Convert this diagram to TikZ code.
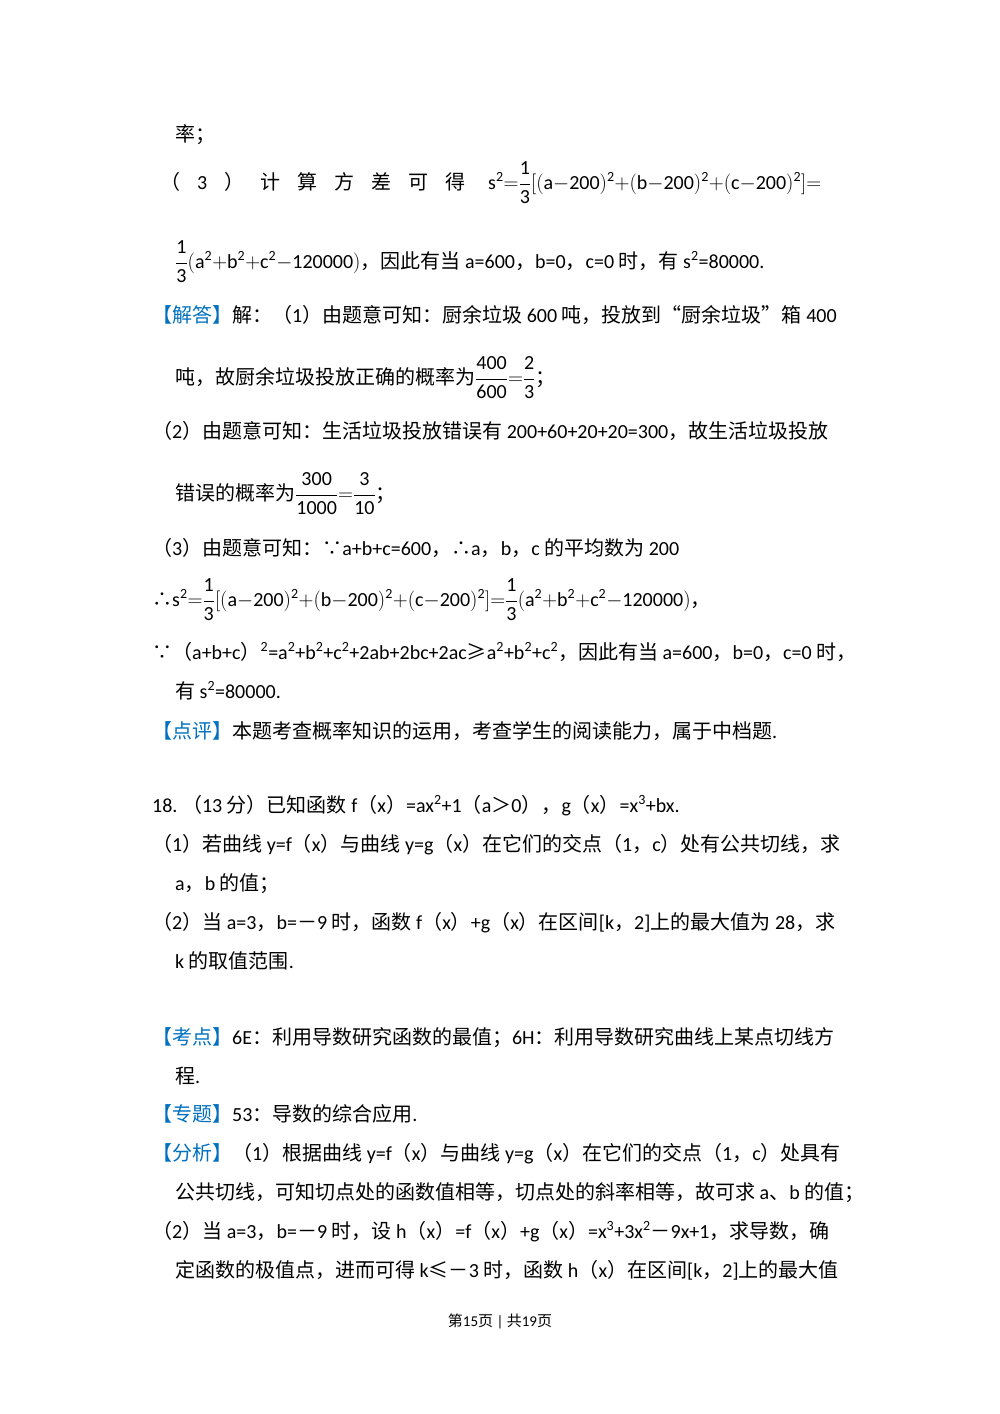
\documentclass[tikz,border=0pt]{standalone}
\usepackage{fontspec}
\setmainfont{Carlito}
\newfontfamily\cjkf{Noto Sans CJK SC}
\newfontfamily\latf{Carlito}
\XeTeXinterchartokenstate=1
\newXeTeXintercharclass\cjkcls
\count255="3000 \loop \XeTeXcharclass\count255=\cjkcls \ifnum\count255<"303F \advance\count255 1 \repeat
\count255="4E00 \loop \XeTeXcharclass\count255=\cjkcls \ifnum\count255<"9FFF \advance\count255 1 \repeat
\count255="FF00 \loop \XeTeXcharclass\count255=\cjkcls \ifnum\count255<"FFEF \advance\count255 1 \repeat
\XeTeXcharclass"201C=\cjkcls \XeTeXcharclass"201D=\cjkcls
\XeTeXcharclass"2234=\cjkcls \XeTeXcharclass"2235=\cjkcls
\XeTeXcharclass"2264=\cjkcls \XeTeXcharclass"2265=\cjkcls
\XeTeXinterchartoks 0 \cjkcls = {\cjkf}
\XeTeXinterchartoks 4095 \cjkcls = {\cjkf}
\XeTeXinterchartoks \cjkcls 0 = {\latf}
\XeTeXinterchartoks \cjkcls 4095 = {\latf}
\definecolor{hb}{RGB}{0,112,192}
\newcommand\hd[1]{{\color{hb}【#1】}}
\newcommand\sq{\textsuperscript{2}}
\newcommand\cu{\textsuperscript{3}}
\newcommand\fr[2]{{\displaystyle\frac{#1}{#2}}}
\begin{document}
\begin{tikzpicture}[x=1pt,y=-1pt,
  ln/.style={anchor=base west,inner sep=0pt,font=\fontsize{20}{24}\selectfont}]
\useasboundingbox (0,0) rectangle (1000,1414);
\node[ln] (l1) at (175,141) {率；};
\node[ln] (l2) at (160,189) {\makebox[305pt][s]{（ 3 ） 计 算 方 差 可 得}};
\node[ln] (l2b) at (488,189) {$\mathrm{s^2{=}\fr{1}{3}[(a{-}200)^2{+}(b{-}200)^2{+}(c{-}200)^2]{=}}$};
\node[ln] (l3) at (175,268) {$\mathrm{\fr{1}{3}(a^2{+}b^2{+}c^2{-}120000)}$，因此有当 a=600，b=0，c=0 时，有 s\sq=80000.};
\node[ln] (l4) at (152,322) {\hd{解答}解：（1）由题意可知：厨余垃圾 600 吨，投放到“厨余垃圾”箱 400};
\node[ln] (l5) at (175,384) {吨，故厨余垃圾投放正确的概率为$\mathrm{\fr{400}{600}{=}\fr{2}{3}}$；};
\node[ln] (l6) at (152,438) {（2）由题意可知：生活垃圾投放错误有 200+60+20+20=300，故生活垃圾投放};
\node[ln] (l7) at (175,500) {错误的概率为$\mathrm{\fr{300}{1000}{=}\fr{3}{10}}$；};
\node[ln] (l8) at (152,555) {（3）由题意可知：∵a+b+c=600，∴a，b，c 的平均数为 200};
\node[ln] (l9) at (152,606) {∴$\mathrm{s^2{=}\fr{1}{3}[(a{-}200)^2{+}(b{-}200)^2{+}(c{-}200)^2]{=}\fr{1}{3}(a^2{+}b^2{+}c^2{-}120000)}$，};
\node[ln] (l10) at (152,659) {∵（a+b+c）\sq=a\sq+b\sq+c\sq+2ab+2bc+2ac≥a\sq+b\sq+c\sq，因此有当 a=600，b=0，c=0 时，};
\node[ln] (l11) at (175,698) {有 s\sq=80000.};
\node[ln] (l12) at (152,738) {\hd{点评}本题考查概率知识的运用，考查学生的阅读能力，属于中档题.};
\node[ln] (l13) at (152,812) {18.\ （13 分）已知函数 f（x）=ax\sq+1（a＞0），g（x）=x\cu+bx.};
\node[ln] (l14) at (152,851) {（1）若曲线 y=f（x）与曲线 y=g（x）在它们的交点（1，c）处有公共切线，求};
\node[ln] (l15) at (175,890) {a，b 的值；};
\node[ln] (l16) at (152,929) {（2）当 a=3，b=－9 时，函数 f（x）+g（x）在区间[k，2]上的最大值为 28，求};
\node[ln] (l17) at (175,968) {k 的取值范围.};
\node[ln] (l18) at (152,1044) {\hd{考点}6E：利用导数研究函数的最值；6H：利用导数研究曲线上某点切线方};
\node[ln] (l19) at (175,1083) {程.};
\node[ln] (l20) at (152,1121) {\hd{专题}53：导数的综合应用.};
\node[ln] (l21) at (152,1160) {\hd{分析}（1）根据曲线 y=f（x）与曲线 y=g（x）在它们的交点（1，c）处具有};
\node[ln] (l22) at (175,1199) {公共切线，可知切点处的函数值相等，切点处的斜率相等，故可求 a、b 的值；};
\node[ln] (l23) at (152,1238) {（2）当 a=3，b=－9 时，设 h（x）=f（x）+g（x）=x\cu+3x\sq－9x+1，求导数，确};
\node[ln] (l24) at (175,1277) {定函数的极值点，进而可得 k≤－3 时，函数 h（x）在区间[k，2]上的最大值};
\node[anchor=base,inner sep=0pt,font=\fontsize{15}{18}\selectfont] (ft) at (500,1326) {第15页 | 共19页};
\end{tikzpicture}
\end{document}
